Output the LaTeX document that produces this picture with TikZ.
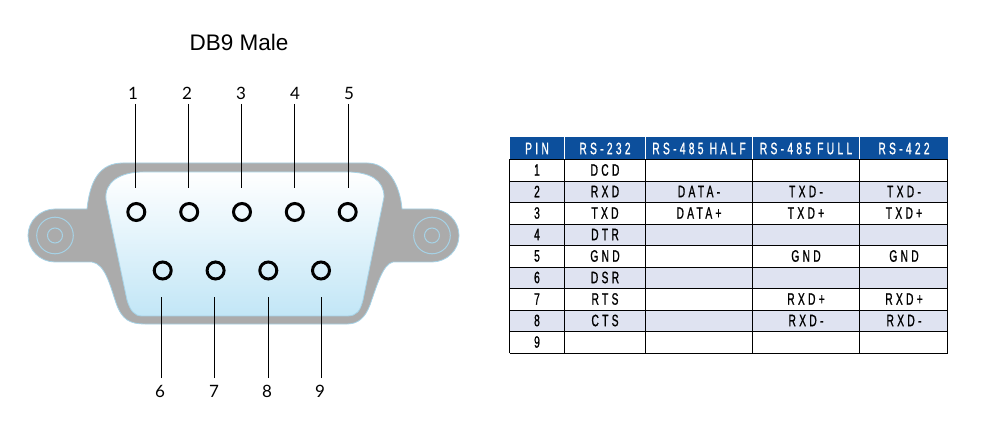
\documentclass[tikz,border=0pt]{standalone}
\usepackage{fontspec}
\setmainfont{Liberation Sans}
\newfontfamily\cellfont[FakeStretch=0.62,FakeBold=1,LetterSpace=20]{Liberation Sans}
\newfontfamily\numfont{Lato}
\usetikzlibrary{calc}
\definecolor{shellgray}{HTML}{ABABAB}
\definecolor{edgeblue}{HTML}{A6D2E6}
\definecolor{facelow}{HTML}{C2E6F6}
\definecolor{headblue}{HTML}{0C4F9C}
\definecolor{rowshade}{HTML}{DFE3F1}
\tikzset{
  pinhole/.style={circle, draw=black, line width=3pt, minimum size=17pt, inner sep=0pt},
  pinnum/.style={inner sep=0pt, font=\numfont\fontsize{17}{17}\selectfont},
  cell/.style={inner sep=0pt, font=\cellfont\fontsize{16.5}{16.5}\selectfont},
  headcell/.style={cell, text=white},
  leader/.style={line width=1pt},
  earring/.style={draw=edgeblue, line width=1pt}
}

\begin{document}
\begin{tikzpicture}[x=1pt, y=-1pt]
\useasboundingbox (0, 0) rectangle (987, 443);

\node[inner sep=0pt, font=\fontsize{22.5}{22.5}\selectfont] (title) at (239, 42) {DB9 Male};

% connector shell
\draw[draw=edgeblue, line width=0.8pt, fill=shellgray]
  (55, 209) -- (87, 209)
  .. controls (90, 180) and (100, 163) .. (123, 163) -- (367, 163)
  .. controls (388, 163) and (400, 185) .. (402, 209) -- (432, 209)
  .. controls (447, 209) and (459, 221) .. (459, 235.5)
  .. controls (459, 250) and (447, 262) .. (432, 262) -- (393, 262)
  .. controls (383, 264) and (377, 285) .. (370, 305)
  .. controls (365, 318) and (358, 324) .. (347, 324) -- (145, 324)
  .. controls (130, 324) and (122, 320) .. (116, 303)
  .. controls (110, 285) and (105, 264) .. (92, 262) -- (55, 262)
  .. controls (40, 262) and (28, 250) .. (28, 235.5)
  .. controls (28, 221) and (40, 209) .. (55, 209) -- cycle;

\draw[draw=edgeblue, line width=0.8pt, top color=white, bottom color=facelow]
  (143, 172) -- (347, 172)
  .. controls (370, 172) and (384, 180) .. (384, 197) -- (363, 300)
  .. controls (360, 311) and (357, 316) .. (347, 316) -- (142, 316)
  .. controls (134, 316) and (130, 310) .. (127, 300) -- (106, 200)
  .. controls (104, 182) and (120, 172) .. (143, 172) -- cycle;

\draw[earring] (55, 235.5) circle (18.3);
\draw[earring] (55, 235.5) circle (7.5);
\draw[earring] (432, 235.5) circle (18.3);
\draw[earring] (432, 235.5) circle (7.5);

% pins
\node[pinhole] (p1) at (136.3, 212) {};
\node[pinhole] (p2) at (189.2, 212) {};
\node[pinhole] (p3) at (242, 212) {};
\node[pinhole] (p4) at (294.8, 212) {};
\node[pinhole] (p5) at (347.7, 212) {};
\node[pinhole] (p6) at (162.7, 270.5) {};
\node[pinhole] (p7) at (215.6, 270.5) {};
\node[pinhole] (p8) at (268.3, 270.5) {};
\node[pinhole] (p9) at (321, 270.5) {};

\node[pinnum] (n1) at (133, 93) {1};
\node[pinnum] (n2) at (187, 93) {2};
\node[pinnum] (n3) at (241, 93) {3};
\node[pinnum] (n4) at (295, 93) {4};
\node[pinnum] (n5) at (349, 93) {5};
\node[pinnum] (n6) at (160, 391) {6};
\node[pinnum] (n7) at (214, 391) {7};
\node[pinnum] (n8) at (267, 391) {8};
\node[pinnum] (n9) at (320, 391) {9};

\coordinate (a1) at (135.7, 104);
\coordinate (a2) at (188.5, 104);
\coordinate (a3) at (241.5, 104);
\coordinate (a4) at (294.5, 104);
\coordinate (a5) at (348.5, 104);
\coordinate (b6) at (161.3, 378);
\coordinate (b7) at (214.3, 378);
\coordinate (b8) at (268, 378);
\coordinate (b9) at (321, 378);

\draw[leader] (a1) -- (a1 |- 0, 188);
\draw[leader] (a2) -- (a2 |- 0, 188);
\draw[leader] (a3) -- (a3 |- 0, 188);
\draw[leader] (a4) -- (a4 |- 0, 188);
\draw[leader] (a5) -- (a5 |- 0, 188);
\draw[leader] (b6) -- (b6 |- 0, 297);
\draw[leader] (b7) -- (b7 |- 0, 297);
\draw[leader] (b8) -- (b8 |- 0, 297);
\draw[leader] (b9) -- (b9 |- 0, 297);

% table
\fill[headblue] (509.5, 137.5) rectangle (947.5, 159.5);
\fill[rowshade] (509.5, 181) rectangle (947.5, 202.5);
\fill[rowshade] (509.5, 224) rectangle (947.5, 245.5);
\fill[rowshade] (509.5, 267) rectangle (947.5, 288.5);
\fill[rowshade] (509.5, 310) rectangle (947.5, 331.5);

\draw (509.5, 159.5) -- (947.5, 159.5);
\draw (509.5, 181) -- (947.5, 181);
\draw (509.5, 202.5) -- (947.5, 202.5);
\draw (509.5, 224) -- (947.5, 224);
\draw (509.5, 245.5) -- (947.5, 245.5);
\draw (509.5, 267) -- (947.5, 267);
\draw (509.5, 288.5) -- (947.5, 288.5);
\draw (509.5, 310) -- (947.5, 310);
\draw (509.5, 331.5) -- (947.5, 331.5);
\draw (509.5, 353) -- (947.5, 353);

\draw (509.5, 159.5) -- (509.5, 353);
\draw (564.5, 159.5) -- (564.5, 353);
\draw (645.5, 159.5) -- (645.5, 353);
\draw (752.5, 159.5) -- (752.5, 353);
\draw (859.5, 159.5) -- (859.5, 353);
\draw (947.5, 159.5) -- (947.5, 353);
\draw[white] (564.5, 137.5) -- (564.5, 159.5);
\draw[white] (645.5, 137.5) -- (645.5, 159.5);
\draw[white] (752.5, 137.5) -- (752.5, 159.5);
\draw[white] (859.5, 137.5) -- (859.5, 159.5);

\node[headcell] (h1) at (537, 148.5) {PIN};
\node[headcell] (h2) at (605, 148.5) {RS-232};
\node[headcell] (h3) at (699, 148.5) {RS-485 HALF};
\node[headcell] (h4) at (806, 148.5) {RS-485 FULL};
\node[headcell] (h5) at (904, 148.5) {RS-422};

\node[cell] (c1) at (537, 170) {1};
\node[cell] (c2) at (537, 191.5) {2};
\node[cell] (c3) at (537, 213) {3};
\node[cell] (c4) at (537, 234.5) {4};
\node[cell] (c5) at (537, 256) {5};
\node[cell] (c6) at (537, 277.5) {6};
\node[cell] (c7) at (537, 299) {7};
\node[cell] (c8) at (537, 320.5) {8};
\node[cell] (c9) at (537, 342) {9};

\node[cell] (r1) at (605, 170) {DCD};
\node[cell] (r2) at (605, 191.5) {RXD};
\node[cell] (r3) at (605, 213) {TXD};
\node[cell] (r4) at (605, 234.5) {DTR};
\node[cell] (r5) at (605, 256) {GND};
\node[cell] (r6) at (605, 277.5) {DSR};
\node[cell] (r7) at (605, 299) {RTS};
\node[cell] (r8) at (605, 320.5) {CTS};

\node[cell] (hm) at (699, 191.5) {DATA-};
\node[cell] (hp) at (699, 213) {DATA+};

\node[cell] (f2) at (806, 191.5) {TXD-};
\node[cell] (f3) at (806, 213) {TXD+};
\node[cell] (f5) at (806, 256) {GND};
\node[cell] (f7) at (806, 299) {RXD+};
\node[cell] (f8) at (806, 320.5) {RXD-};

\node[cell] (q2) at (904, 191.5) {TXD-};
\node[cell] (q3) at (904, 213) {TXD+};
\node[cell] (q5) at (904, 256) {GND};
\node[cell] (q7) at (904, 299) {RXD+};
\node[cell] (q8) at (904, 320.5) {RXD-};

\end{tikzpicture}
\end{document}
